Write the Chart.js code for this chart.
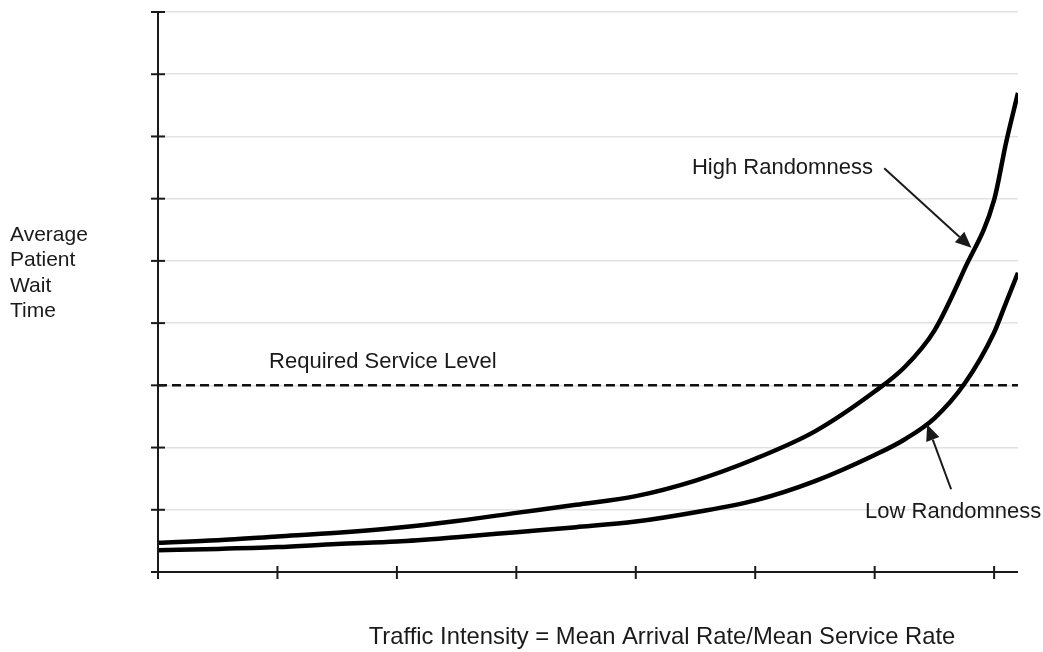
<!DOCTYPE html>
<html lang="en">
<head>
    <meta charset="UTF-8">
    <title>Patient Wait Time vs Traffic Intensity</title>
    <script src="https://cdn.jsdelivr.net/npm/chart.js"></script>
    <style>
        body { margin: 0; background: #fff; }
        #wrap { width: 1043px; height: 652px; }
    </style>
</head>
<body>
    <div id="wrap"><canvas id="waitChart" width="1043" height="652"></canvas></div>

    <script>
        // traffic intensity positions (x) and wait time values
        const intensity = [0, 0.5, 1, 1.5, 2, 2.5, 3, 3.5, 4, 4.5, 5, 5.5, 6, 6.25, 6.5, 6.75, 7, 7.1, 7.2];
        const highRandomness = [0.47, 0.51, 0.57, 0.63, 0.71, 0.82, 0.95, 1.08, 1.22, 1.47, 1.82, 2.26, 2.90, 3.29, 3.88, 4.86, 5.98, 6.9, 7.7];
        const lowRandomness = [0.35, 0.37, 0.40, 0.45, 0.49, 0.56, 0.64, 0.72, 0.81, 0.96, 1.15, 1.46, 1.88, 2.13, 2.47, 3.02, 3.85, 4.33, 4.81];
        const serviceLevelX = [0, 7.2];
        const serviceLevel = [3, 3];
        const xTicks = [0, 1, 2, 3, 4, 5, 6, 7];
        const yTicks = [0, 1, 2, 3, 4, 5, 6, 7, 8, 9];

        const font = '"Liberation Sans", Arial, sans-serif';
        const ink = '#1a1a1a';

        function toPoints(xs, ys) {
            return xs.map((x, i) => ({ x: x, y: ys[i] }));
        }

        function arrow(ctx, x1, y1, x2, y2) {
            const ang = Math.atan2(y2 - y1, x2 - x1);
            const len = 16, half = 7;
            const bx = x2 - len * Math.cos(ang), by = y2 - len * Math.sin(ang);
            ctx.beginPath();
            ctx.moveTo(x1, y1);
            ctx.lineTo(bx, by);
            ctx.stroke();
            ctx.beginPath();
            ctx.moveTo(x2, y2);
            ctx.lineTo(bx + half * Math.sin(ang), by - half * Math.cos(ang));
            ctx.lineTo(bx - half * Math.sin(ang), by + half * Math.cos(ang));
            ctx.closePath();
            ctx.fill();
        }

        // axes with crossing ticks, labels and arrows
        const decorations = {
            id: 'decorations',
            afterDraw(chart) {
                const ctx = chart.ctx;
                const xs = chart.scales.x, ys = chart.scales.y;
                const x0 = xs.getPixelForValue(0), xEnd = xs.getPixelForValue(7.2);
                const y0 = ys.getPixelForValue(0), yTop = ys.getPixelForValue(9);
                ctx.save();
                ctx.strokeStyle = ink;
                ctx.fillStyle = ink;
                ctx.lineWidth = 2;
                ctx.beginPath();
                ctx.moveTo(x0, yTop);
                ctx.lineTo(x0, y0);
                ctx.lineTo(xEnd, y0);
                ctx.stroke();
                yTicks.forEach(v => {
                    const p = ys.getPixelForValue(v);
                    ctx.beginPath();
                    ctx.moveTo(x0 - 7, p);
                    ctx.lineTo(x0 + 7, p);
                    ctx.stroke();
                });
                xTicks.forEach(v => {
                    const p = xs.getPixelForValue(v);
                    ctx.beginPath();
                    ctx.moveTo(p, y0 - 6);
                    ctx.lineTo(p, y0 + 7);
                    ctx.stroke();
                });

                ctx.textBaseline = 'middle';
                ctx.textAlign = 'left';
                ctx.font = '21px ' + font;
                ['Average', 'Patient', 'Wait', 'Time'].forEach((t, i) => {
                    ctx.fillText(t, 10, 235 + i * 25.5);
                });
                ctx.font = '22px ' + font;
                ctx.fillText('Required Service Level', xs.getPixelForValue(0.93), ys.getPixelForValue(3.37));
                ctx.fillText('High Randomness', xs.getPixelForValue(4.47), ys.getPixelForValue(6.5));
                ctx.fillText('Low Randomness', xs.getPixelForValue(5.92), ys.getPixelForValue(0.96));
                ctx.textAlign = 'center';
                ctx.font = '23.8px ' + font;
                ctx.fillText('Traffic Intensity = Mean Arrival Rate/Mean Service Rate', 662, 637);

                ctx.lineWidth = 2;
                arrow(ctx, xs.getPixelForValue(6.08), ys.getPixelForValue(6.49),
                    xs.getPixelForValue(6.81), ys.getPixelForValue(5.21));
                arrow(ctx, xs.getPixelForValue(6.64), ys.getPixelForValue(1.33),
                    xs.getPixelForValue(6.44), ys.getPixelForValue(2.37));
                ctx.restore();
            }
        };

        new Chart(document.getElementById('waitChart'), {
            type: 'line',
            data: {
                datasets: [
                    {
                        label: 'High Randomness',
                        data: toPoints(intensity, highRandomness),
                        borderColor: '#000',
                        borderWidth: 4.5,
                        pointRadius: 0,
                        cubicInterpolationMode: 'monotone'
                    },
                    {
                        label: 'Low Randomness',
                        data: toPoints(intensity, lowRandomness),
                        borderColor: '#000',
                        borderWidth: 4.5,
                        pointRadius: 0,
                        cubicInterpolationMode: 'monotone'
                    },
                    {
                        label: 'Required Service Level',
                        data: toPoints(serviceLevelX, serviceLevel),
                        borderColor: '#111',
                        borderWidth: 2.5,
                        borderDash: [9, 5],
                        pointRadius: 0
                    }
                ]
            },
            options: {
                responsive: false,
                animation: false,
                layout: { padding: { left: 158, right: 25, top: 12, bottom: 72 } },
                plugins: {
                    legend: { display: false },
                    tooltip: { enabled: false }
                },
                scales: {
                    x: {
                        type: 'linear',
                        min: 0,
                        max: 7.2,
                        ticks: { display: false, stepSize: 1 },
                        grid: { display: false },
                        border: { display: false }
                    },
                    y: {
                        min: 0,
                        max: 9,
                        ticks: { display: false, stepSize: 1 },
                        grid: { color: '#e2e2e2', lineWidth: 1.5, drawTicks: false },
                        border: { display: false }
                    }
                }
            },
            plugins: [decorations]
        });
    </script>
</body>
</html>
